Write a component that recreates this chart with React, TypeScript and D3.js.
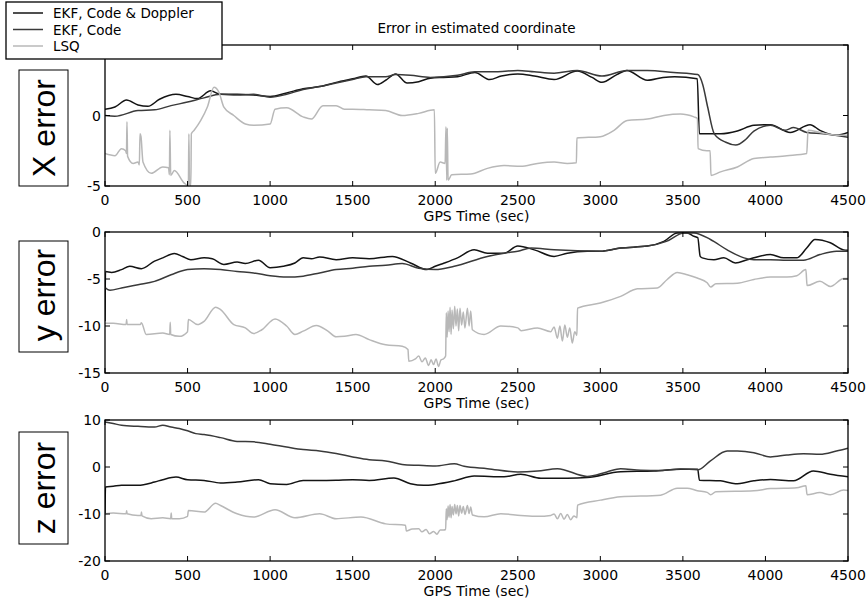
import React from 'react';
import * as d3 from 'd3';

type Pt = [number, number];

const timeTicks = [0, 500, 1000, 1500, 2000, 2500, 3000, 3500, 4000, 4500];
const seriesNames = ['EKF, Code & Doppler', 'EKF, Code', 'LSQ'];
const seriesColors = ['#141414', '#3a3a3a', '#b8b8b8'];
const panelLabels = ['X error', 'y error', 'z error'];
const panelDomains: [number, number][] = [[-5, 5], [-15, 0], [-20, 10]];
const panelTicks = [[-5, 0, 5], [-15, -10, -5, 0], [-20, -10, 0, 10]];

// X error
const xErrDoppler: Pt[] = [[0,0.45],[60,0.6],[130,1.1],[200,0.75],[260,0.65],[330,1.15],[430,1.5],[500,1.35],[560,1.2],[640,1.75],[700,1.5],[800,1.5],[900,1.45],[1000,1.35],[1100,1.6],[1200,1.9],[1300,2.05],[1400,2.35],[1500,2.6],[1580,2.8],[1650,2.2],[1700,2.5],[1760,2.95],[1830,2.3],[1900,2.4],[1970,2.65],[2050,2.7],[2135,2.75],[2240,3.05],[2330,2.55],[2400,2.8],[2500,2.95],[2600,2.8],[2720,2.55],[2860,3.15],[2950,2.7],[3010,2.35],[3100,2.9],[3160,3.2],[3285,2.5],[3380,2.7],[3450,2.75],[3587,2.6],[3600,-1.3],[3730,-1.3],[3830,-1.1],[3930,-0.7],[4030,-0.65],[4150,-1.2],[4270,-0.65],[4330,-1.05],[4430,-1.4],[4500,-1.2]];
const xErrCode: Pt[] = [[0,0.0],[60,-0.05],[200,0.35],[300,0.4],[400,0.7],[500,0.95],[600,1.25],[700,1.5],[800,1.45],[900,1.5],[1000,1.3],[1100,1.5],[1200,1.85],[1300,2.05],[1400,2.3],[1500,2.55],[1580,2.75],[1700,2.75],[1760,2.9],[1850,2.85],[1970,2.7],[2135,2.85],[2240,3.1],[2380,3.1],[2500,3.2],[2600,3.1],[2720,3.0],[2860,3.2],[3010,2.8],[3163,3.2],[3285,3.2],[3445,3.05],[3590,2.9],[3620,2.2],[3650,0.6],[3690,-1.3],[3760,-1.9],[3820,-2.1],[3880,-1.7],[3930,-1.1],[4030,-0.7],[4120,-1.05],[4170,-0.85],[4250,-1.2],[4350,-1.3],[4500,-1.55]];
const xErrLsq: Pt[] = [[0,-2.7],[60,-2.85],[100,-2.35],[125,-2.5],[130,-2.7],[133,-0.45],[137,-2.9],[170,-3.4],[200,-3.3],[208,-3.5],[212,-1.3],[218,-1.5],[230,-3.3],[280,-4.1],[350,-3.65],[385,-3.7],[390,-4.2],[393,-1.05],[398,-4.25],[420,-3.9],[480,-4.8],[500,-4.95],[505,-4.9],[508,-1.3],[512,-4.9],[520,-4.95],[523,-1.3],[540,-1.05],[580,-0.35],[620,0.6],[660,2.0],[690,1.65],[720,0.6],[780,0.0],[850,-0.6],[900,-0.7],[1000,-0.6],[1030,0.45],[1100,0.55],[1200,-0.1],[1250,-0.25],[1320,0.7],[1400,0.7],[1450,0.45],[1500,0.45],[1600,0.4],[1700,0.35],[1800,0.0],[1900,0.15],[1995,0.4],[2000,-4.1],[2030,-3.3],[2060,-3.4],[2065,-0.8],[2070,-4.6],[2073,-0.9],[2078,-4.6],[2100,-4.2],[2215,-4.15],[2316,-3.75],[2417,-3.55],[2518,-3.6],[2619,-3.4],[2720,-3.3],[2800,-3.4],[2855,-3.35],[2858,-1.6],[3000,-1.5],[3083,-1.05],[3163,-0.35],[3285,-0.25],[3385,0.0],[3486,0.1],[3567,-0.1],[3588,-0.2],[3592,-2.35],[3645,-2.5],[3665,-2.5],[3670,-4.25],[3728,-4.0],[3830,-3.65],[3930,-3.05],[4030,-2.95],[4130,-2.85],[4250,-2.7],[4258,-1.05],[4330,-1.2],[4430,-1.4],[4500,-1.4]];

// y error
const yErrDoppler: Pt[] = [[0,-9.5],[3,-4.2],[40,-4.3],[100,-4.0],[150,-3.65],[220,-3.9],[300,-3.1],[350,-2.75],[420,-2.3],[470,-2.6],[520,-2.95],[600,-2.75],[650,-2.85],[720,-3.45],[800,-3.2],[850,-3.35],[930,-3.0],[1000,-3.8],[1080,-3.65],[1150,-3.3],[1200,-2.75],[1250,-2.85],[1300,-2.65],[1400,-2.95],[1500,-2.75],[1600,-2.85],[1740,-2.6],[1850,-3.3],[1950,-4.0],[2000,-3.65],[2055,-3.3],[2135,-2.75],[2236,-1.9],[2316,-2.25],[2417,-2.25],[2500,-1.5],[2600,-1.9],[2720,-2.6],[2800,-2.25],[2920,-2.05],[3000,-2.05],[3123,-1.7],[3285,-1.5],[3385,-1.0],[3466,-0.1],[3526,-0.1],[3567,-0.45],[3590,-0.6],[3605,-2.6],[3617,-2.75],[3688,-2.95],[3748,-2.75],[3818,-3.3],[3890,-2.95],[3930,-2.75],[4030,-2.4],[4110,-2.75],[4190,-2.75],[4250,-1.7],[4300,-0.8],[4393,-1.15],[4474,-1.9],[4500,-1.95]];
const yErrCode: Pt[] = [[0,-5.9],[30,-6.2],[100,-5.95],[200,-5.6],[300,-5.25],[400,-4.55],[500,-4.0],[600,-3.9],[700,-4.0],[800,-4.2],[900,-4.35],[1000,-4.65],[1100,-4.8],[1200,-4.7],[1300,-4.35],[1400,-4.0],[1500,-3.85],[1600,-3.65],[1700,-3.55],[1800,-3.35],[1900,-3.85],[2000,-4.0],[2115,-3.65],[2316,-2.6],[2417,-2.25],[2500,-2.05],[2580,-1.7],[2720,-1.9],[3000,-2.05],[3123,-1.7],[3285,-1.5],[3400,-1.0],[3506,-0.1],[3567,-0.1],[3667,-0.8],[3768,-1.9],[3870,-2.75],[3930,-2.95],[4030,-2.95],[4130,-3.0],[4230,-3.0],[4330,-2.4],[4430,-2.05],[4500,-2.05]];
const yErrLsq: Pt[] = [[0,-9.7],[50,-9.7],[128,-9.85],[131,-9.3],[134,-9.85],[215,-9.85],[220,-9.65],[250,-10.9],[350,-10.75],[392,-10.9],[395,-9.6],[398,-10.9],[450,-11.1],[500,-10.6],[505,-9.3],[560,-9.85],[600,-9.5],[670,-8.0],[700,-8.25],[780,-9.85],[850,-10.2],[900,-10.8],[950,-10.4],[1030,-9.25],[1100,-10.0],[1150,-10.9],[1200,-10.55],[1280,-9.95],[1350,-10.55],[1400,-11.15],[1450,-11.1],[1520,-10.9],[1600,-11.45],[1700,-12.0],[1800,-12.15],[1835,-12.5],[1840,-13.75],[1880,-13.5],[1900,-13.2],[1920,-13.8],[1940,-13.4],[1960,-14.2],[1975,-13.6],[1990,-14.1],[2005,-13.5],[2020,-14.3],[2035,-13.6],[2050,-13.5],[2063,-13.2],[2067,-8.6],[2072,-11.2],[2078,-8.4],[2084,-10.6],[2090,-8.0],[2096,-10.9],[2102,-8.3],[2110,-10.3],[2118,-7.9],[2126,-10.0],[2134,-8.2],[2142,-10.5],[2150,-8.1],[2160,-9.9],[2170,-8.5],[2180,-10.2],[2195,-8.1],[2205,-10.0],[2215,-8.4],[2225,-10.4],[2296,-10.9],[2397,-10.0],[2500,-10.2],[2520,-10.5],[2619,-10.2],[2700,-10.6],[2720,-10.1],[2740,-11.3],[2755,-10.0],[2770,-11.6],[2785,-9.9],[2800,-11.2],[2815,-10.2],[2830,-11.8],[2845,-10.6],[2858,-11.0],[2862,-8.1],[3000,-7.55],[3123,-6.85],[3224,-6.05],[3345,-5.95],[3405,-5.05],[3466,-4.3],[3526,-4.55],[3587,-4.9],[3647,-5.4],[3668,-5.85],[3700,-5.5],[3830,-5.45],[3930,-5.05],[4030,-4.8],[4130,-4.8],[4190,-4.65],[4245,-4.0],[4252,-5.7],[4330,-5.25],[4393,-5.8],[4474,-4.95],[4500,-4.95]];

// z error
const zErrDoppler: Pt[] = [[0,-9.9],[3,-4.25],[50,-4.1],[100,-3.9],[200,-3.9],[300,-3.2],[350,-2.7],[430,-2.15],[500,-2.7],[600,-2.85],[700,-3.4],[800,-3.2],[930,-2.7],[1000,-3.55],[1100,-3.7],[1200,-2.85],[1300,-2.85],[1400,-2.8],[1500,-2.7],[1600,-2.85],[1750,-2.35],[1850,-3.55],[1930,-3.9],[2000,-3.7],[2115,-2.95],[2236,-1.9],[2417,-2.1],[2518,-1.55],[2640,-2.4],[2800,-2.4],[2920,-2.25],[3123,-1.0],[3325,-0.85],[3486,-0.5],[3590,-0.5],[3600,-2.8],[3728,-2.95],[3818,-3.55],[3930,-2.95],[4030,-2.65],[4170,-2.95],[4290,-0.85],[4393,-1.55],[4500,-2.1]];
const zErrCode: Pt[] = [[0,9.6],[50,9.25],[100,8.9],[200,8.65],[300,8.5],[350,8.9],[400,8.5],[450,8.2],[500,7.7],[550,7.1],[600,6.9],[700,6.25],[800,5.45],[900,5.35],[1000,4.85],[1100,4.25],[1200,3.7],[1300,3.4],[1400,2.85],[1500,2.15],[1600,1.55],[1700,1.3],[1800,0.55],[1900,0.35],[2000,0.2],[2115,0.7],[2175,0.15],[2316,-0.35],[2500,-1.05],[2620,-0.85],[2740,-0.35],[2920,-2.0],[3040,-1.05],[3123,-0.35],[3245,-0.7],[3365,-0.75],[3486,-0.4],[3590,-0.6],[3667,1.3],[3768,3.4],[3830,3.4],[3930,3.05],[4030,2.15],[4130,2.55],[4230,2.8],[4330,2.7],[4430,3.4],[4500,4.0]];
const zErrLsq: Pt[] = [[0,-9.95],[50,-9.8],[128,-9.95],[131,-9.3],[134,-9.95],[200,-10.3],[218,-10.3],[221,-9.6],[224,-10.4],[280,-11.0],[350,-10.8],[398,-11.0],[401,-9.8],[404,-11.0],[450,-11.0],[500,-10.5],[505,-9.25],[600,-9.6],[670,-7.7],[700,-8.2],[800,-9.95],[900,-10.65],[1030,-9.1],[1150,-10.8],[1300,-9.95],[1400,-11.0],[1550,-10.65],[1700,-12.1],[1820,-12.4],[1825,-13.6],[1860,-13.2],[1900,-13.15],[1920,-13.8],[1945,-13.3],[1965,-14.2],[1990,-13.7],[2010,-14.3],[2030,-13.4],[2050,-13.4],[2063,-13.3],[2067,-8.9],[2072,-11.2],[2078,-8.3],[2084,-10.7],[2090,-8.0],[2096,-10.8],[2102,-8.4],[2110,-10.2],[2118,-8.0],[2126,-10.0],[2134,-8.2],[2142,-10.4],[2150,-8.2],[2160,-9.8],[2170,-8.4],[2180,-10.1],[2195,-8.2],[2205,-9.9],[2215,-8.5],[2225,-10.2],[2296,-10.6],[2397,-9.95],[2518,-10.3],[2620,-10.5],[2700,-10.3],[2720,-10.0],[2740,-11.0],[2760,-9.9],[2780,-11.1],[2800,-10.1],[2820,-11.2],[2840,-10.4],[2858,-10.8],[2862,-8.1],[3000,-7.05],[3123,-6.35],[3365,-6.0],[3466,-4.5],[3526,-4.5],[3587,-5.05],[3647,-5.4],[3668,-5.9],[3700,-5.25],[3930,-5.05],[4030,-4.6],[4190,-4.4],[4245,-4.0],[4252,-5.9],[4330,-5.45],[4393,-5.9],[4474,-4.9],[4500,-5.0]];

const panelSeries = [
  [xErrDoppler, xErrCode, xErrLsq],
  [yErrDoppler, yErrCode, yErrLsq],
  [zErrDoppler, zErrCode, zErrLsq],
];

// layout in pixels
const W = 868;
const H = 602;
const LEFT = 105;
const RIGHT = 848;
const panelBox = [
  { top: 45, bottom: 186, labelTop: 70, labelBottom: 186, labelY: 128 },
  { top: 232, bottom: 373, labelTop: 241, labelBottom: 352, labelY: 295 },
  { top: 420, bottom: 561, labelTop: 432, labelBottom: 544, labelY: 488 },
];
const TICK = 5;
const FONT = "'DejaVu Sans', sans-serif";

const x = d3.scaleLinear().domain([0, 4500]).range([LEFT, RIGHT]);

function Panel({ idx }: { idx: number }) {
  const box = panelBox[idx];
  const y = d3.scaleLinear().domain(panelDomains[idx]).range([box.bottom, box.top]);
  const line = d3
    .line<Pt>()
    .x((d) => x(d[0]))
    .y((d) => y(d[1]))
    .curve(d3.curveMonotoneX);
  const clipId = `clip-${idx}`;

  return (
    <g>
      <clipPath id={clipId}>
        <rect x={LEFT} y={box.top} width={RIGHT - LEFT} height={box.bottom - box.top} />
      </clipPath>
      <rect x={LEFT} y={box.top} width={RIGHT - LEFT} height={box.bottom - box.top} fill="#fff" />
      <g clipPath={`url(#${clipId})`}>
        {panelSeries[idx].map((s, i) => (
          <path key={i} d={line(s) || ''} fill="none" stroke={seriesColors[i]} strokeWidth={1.5} strokeLinejoin="round" />
        ))}
      </g>
      <rect x={LEFT} y={box.top} width={RIGHT - LEFT} height={box.bottom - box.top} fill="none" stroke="#000" strokeWidth={1.3} />

      {/* x ticks, inward on top and bottom */}
      {timeTicks.map((t) => (
        <g key={t}>
          <line x1={x(t)} x2={x(t)} y1={box.bottom} y2={box.bottom - TICK} stroke="#000" />
          <line x1={x(t)} x2={x(t)} y1={box.top} y2={box.top + TICK} stroke="#000" />
          <text x={x(t)} y={box.bottom + 19} textAnchor="middle" fontSize={14} fontFamily={FONT}>
            {t}
          </text>
        </g>
      ))}
      <text x={(LEFT + RIGHT) / 2} y={box.bottom + 35} textAnchor="middle" fontSize={14} fontFamily={FONT}>
        GPS Time (sec)
      </text>

      {/* y ticks, inward on left and right */}
      {panelTicks[idx].map((v) => (
        <g key={v}>
          <line x1={LEFT} x2={LEFT + TICK} y1={y(v)} y2={y(v)} stroke="#000" />
          <line x1={RIGHT} x2={RIGHT - TICK} y1={y(v)} y2={y(v)} stroke="#000" />
          <text x={101} y={y(v) + 5} textAnchor="end" fontSize={14} fontFamily={FONT}>
            {v}
          </text>
        </g>
      ))}

      {/* boxed axis label */}
      <rect x={19} y={box.labelTop} width={49} height={box.labelBottom - box.labelTop} fill="#fff" stroke="#000" strokeWidth={1} />
      <text
        transform={`translate(55,${box.labelY}) rotate(-90)`}
        textAnchor="middle"
        fontSize={32}
        fontFamily="'Liberation Sans', Arial, sans-serif"
      >
        {panelLabels[idx]}
      </text>
    </g>
  );
}

export default function App() {
  return (
    <svg width={W} height={H} style={{ position: 'absolute', left: 0, top: 0, background: '#fff' }}>
      <rect width={W} height={H} fill="#fff" />
      <text x={(LEFT + RIGHT) / 2} y={33} textAnchor="middle" fontSize={13.5} fontFamily={FONT}>
        Error in estimated coordinate
      </text>
      {[0, 1, 2].map((i) => (
        <Panel key={i} idx={i} />
      ))}
      <g>
        <rect x={6} y={2} width={216} height={57} fill="#fff" stroke="#000" strokeWidth={1.3} />
        {seriesNames.map((n, i) => (
          <g key={n}>
            <line x1={13} x2={43} y1={13 + i * 16.5} y2={13 + i * 16.5} stroke={seriesColors[i]} strokeWidth={1.5} />
            <text x={53} y={18 + i * 16.5} fontSize={13.5} fontFamily={FONT}>
              {n}
            </text>
          </g>
        ))}
      </g>
    </svg>
  );
}
